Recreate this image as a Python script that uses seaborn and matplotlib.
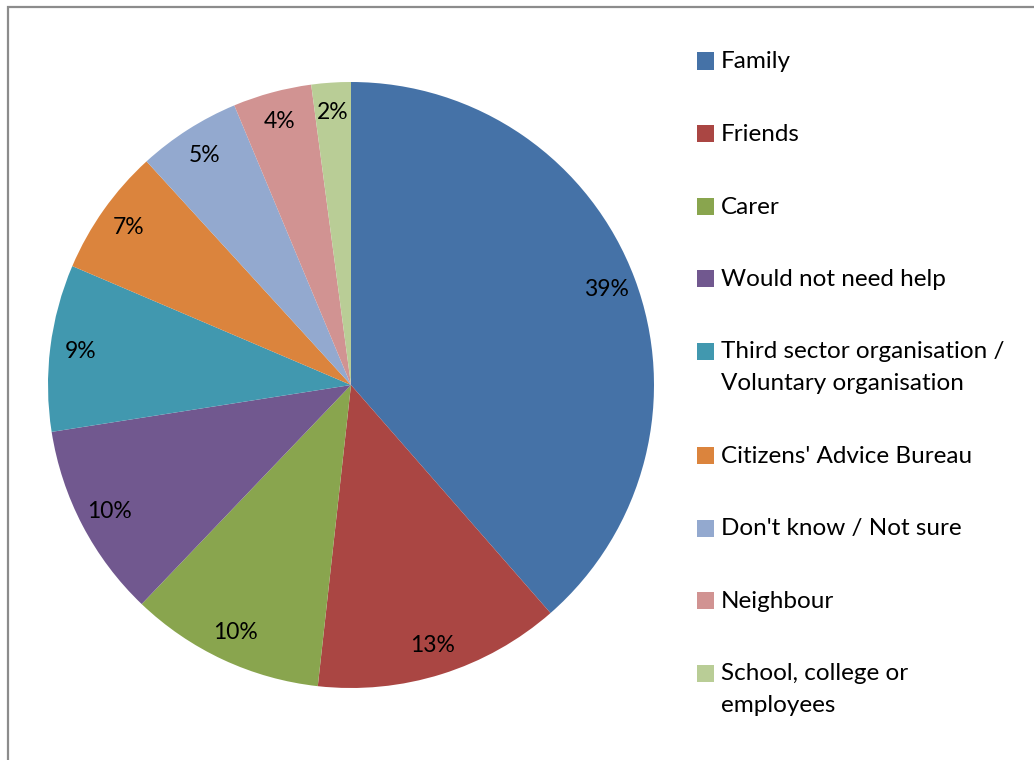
import matplotlib
matplotlib.use("Agg")
import matplotlib.pyplot as plt
import seaborn as sns
from matplotlib.patches import Rectangle

# shares (percent of respondents)
categories = ["Family", "Friends", "Carer", "Would not need help",
              "Third sector organisation /\nVoluntary organisation",
              "Citizens' Advice Bureau", "Don't know / Not sure",
              "Neighbour", "School, college or\nemployees"]
shares = [38.6, 13.2, 10.4, 10.4, 8.9, 6.8, 5.5, 4.2, 2.1]
colors = ["#4572A7", "#AA4643", "#89A54E", "#71588F", "#4198AF",
          "#DB843D", "#93A9CF", "#D19392", "#B9CD96"]

sns.set_theme(style="white")
plt.rcParams["font.family"] = ["Lato", "DejaVu Sans"]

W, H = 1034, 760
fig = plt.figure(figsize=(W / 100, H / 100), dpi=100)

# chart-area border (left/top visible, right/bottom run off the image)
fig.patches.append(Rectangle((8 / W, -0.05), 1.2, (H - 7) / H + 0.05,
                             transform=fig.transFigure, fill=False,
                             edgecolor="#8c8c8c", linewidth=1.6))

cx, cy, r = 351, 385, 303
ax = fig.add_axes([(cx - r) / W, (H - cy - r) / H, 2 * r / W, 2 * r / H])
ax.pie(shares, colors=colors, startangle=90, counterclock=False,
       autopct="%.0f%%", pctdistance=0.9,
       textprops={"fontsize": 16.5, "color": "black"},
       wedgeprops={"linewidth": 0})
ax.set_xlim(-1, 1)
ax.set_ylim(-1, 1)
ax.set_aspect("equal")
ax.axis("off")

# legend drawn by hand to match Excel's layout
y = 62
box = 17
for label, color in zip(categories, colors):
    fig.patches.append(Rectangle((697 / W, (H - y - box / 2 + 1) / H), box / W, box / H,
                                 transform=fig.transFigure, facecolor=color,
                                 edgecolor="none"))
    lines = label.split("\n")
    for i, line in enumerate(lines):
        fig.text(721 / W, (H - y - 32 * i) / H, line, fontsize=17.5,
                 va="center", ha="left", color="black")
    y += 72.5 + 32 * (len(lines) - 1)

fig.savefig("out.png", dpi=100)
